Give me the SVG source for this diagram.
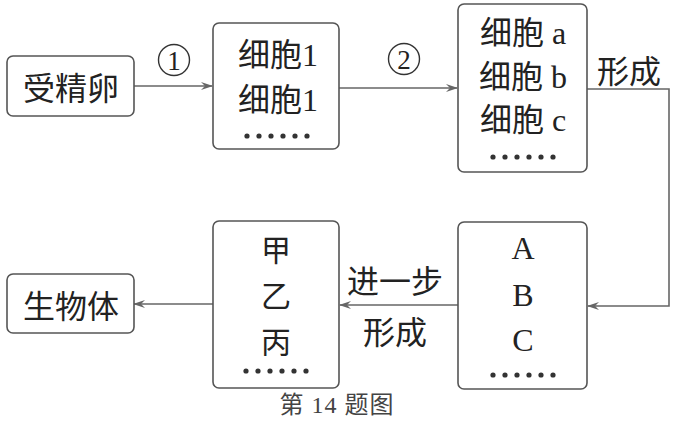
<svg xmlns="http://www.w3.org/2000/svg" width="676" height="429" viewBox="0 0 676 429">
<style>
.box{fill:#fff;stroke:#555;stroke-width:1.6}
.t{font-family:"Liberation Serif","Noto Sans CJK SC",serif;font-size:32px;fill:#222;text-anchor:middle;dominant-baseline:central}
.c{font-family:"Noto Sans CJK SC",sans-serif;font-size:32px;fill:#222;text-anchor:middle;dominant-baseline:central}
.dots{fill:#333}
.ln{fill:none;stroke:#666;stroke-width:1.6}
</style>
<defs>
<marker id="ah" viewBox="0 0 12 10" refX="11" refY="5" markerWidth="12" markerHeight="10" markerUnits="userSpaceOnUse" orient="auto">
<path d="M0,1 L12,5 L0,9 L4,5 Z" fill="#666"/>
</marker>
<g id="dot6">
<circle cx="0" cy="0" r="2.6"/><circle cx="12" cy="0" r="2.6"/><circle cx="24" cy="0" r="2.6"/><circle cx="36" cy="0" r="2.6"/><circle cx="48" cy="0" r="2.6"/><circle cx="60" cy="0" r="2.6"/>
</g>
</defs>
<rect width="676" height="429" fill="#fff"/>
<g id="connectors">
<line class="ln" x1="134" y1="86" x2="212" y2="86" marker-end="url(#ah)"/>
<line class="ln" x1="339" y1="88" x2="457" y2="88" marker-end="url(#ah)"/>
<polyline class="ln" points="587,89 669,89 669,306 588,306" marker-end="url(#ah)"/>
<line class="ln" x1="458" y1="305" x2="340" y2="305" marker-end="url(#ah)"/>
<line class="ln" x1="213" y1="304" x2="134" y2="304" marker-end="url(#ah)"/>
<circle cx="174" cy="60" r="15.5" fill="none" stroke="#333" stroke-width="1.4"/>
<text class="t" x="174" y="61" style="font-size:27px">1</text>
<circle cx="404" cy="59" r="15.5" fill="none" stroke="#333" stroke-width="1.4"/>
<text class="t" x="404" y="60" style="font-size:27px">2</text>
<text class="c" x="629" y="69">形成</text>
<text class="c" x="395" y="279">进一步</text>
<text class="c" x="395" y="330">形成</text>
</g>
<g id="n-zygote">
<rect class="box" x="7" y="56" width="127" height="60" rx="6"/>
<text class="c" x="71" y="86">受精卵</text>
</g>
<g id="n-cell1">
<rect class="box" x="213" y="23" width="126" height="126" rx="6"/>
<text class="t" x="278" y="55">细胞1</text>
<text class="t" x="278" y="100">细胞1</text>
<use href="#dot6" class="dots" x="247" y="136"/>
</g>
<g id="n-cellabc">
<rect class="box" x="458" y="4" width="129" height="168" rx="6"/>
<text class="t" x="523" y="33">细胞 a</text>
<text class="t" x="523" y="77">细胞 b</text>
<text class="t" x="523" y="120">细胞 c</text>
<use href="#dot6" class="dots" x="493" y="157"/>
</g>
<g id="n-ABC">
<rect class="box" x="458" y="222" width="129" height="167" rx="6"/>
<text class="t" x="523" y="248">A</text>
<text class="t" x="523" y="295">B</text>
<text class="t" x="523" y="340">C</text>
<use href="#dot6" class="dots" x="493" y="375"/>
</g>
<g id="n-jyb">
<rect class="box" x="213" y="221" width="126" height="167" rx="6"/>
<text class="c" x="276" y="248" style="font-size:30px">甲</text>
<text class="c" x="276" y="294" style="font-size:30px">乙</text>
<text class="c" x="276" y="340" style="font-size:30px">丙</text>
<use href="#dot6" class="dots" x="246" y="371"/>
</g>
<g id="n-organism">
<rect class="box" x="7" y="274" width="127" height="59" rx="6"/>
<text class="c" x="71" y="304">生物体</text>
</g>
<text class="t" x="337" y="405" style="font-size:24px;fill:#444;letter-spacing:1px">第 14 题图</text>
</svg>
